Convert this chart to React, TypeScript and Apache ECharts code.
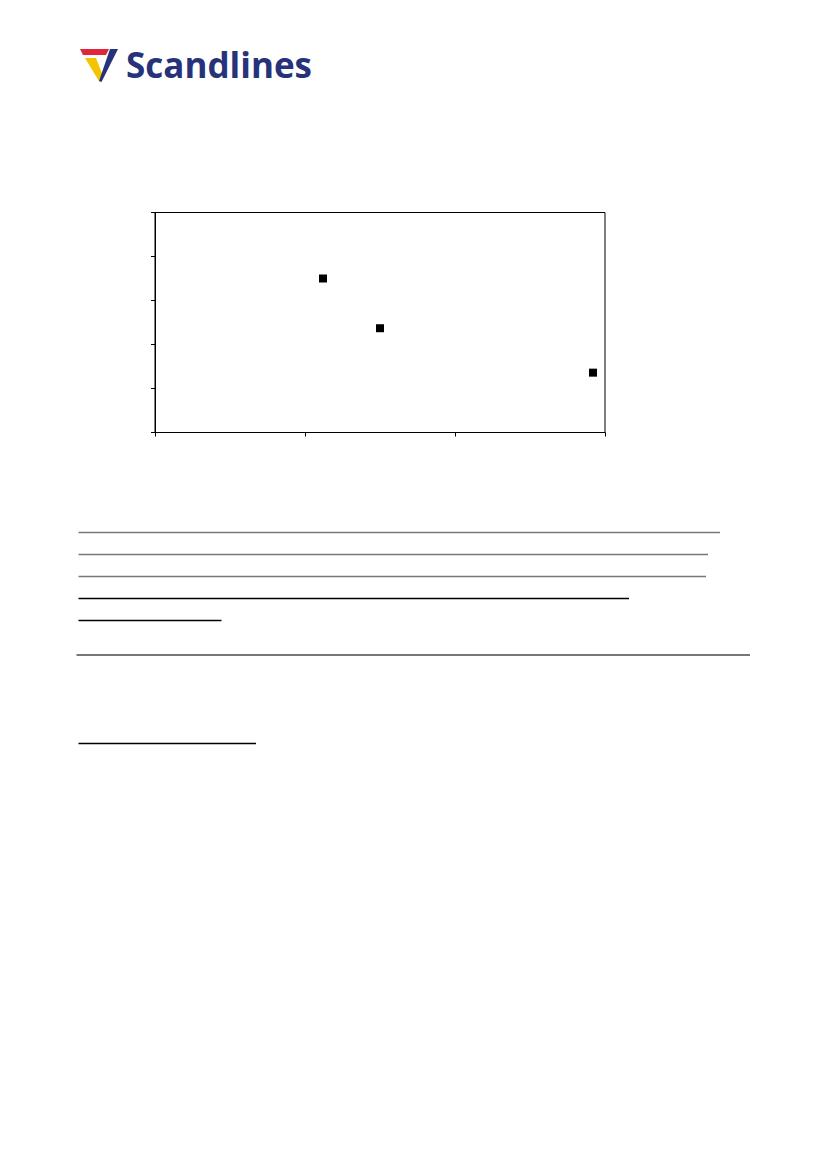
import React, { useEffect, useRef } from "react";
import * as echarts from "echarts";

const xValues = [1.12, 1.5, 2.92];
const yValues = [3.5, 2.37, 1.36];
const xTicks = [0, 1, 2, 3];
const yTicks = [0, 1, 2, 3, 4, 5];

export default function App() {
  const ref = useRef<HTMLDivElement>(null);
  useEffect(() => {
    if (!ref.current) return;
    const chart = echarts.init(ref.current, null, { renderer: "svg" });
    const points = xValues.map((x, i) => [x, yValues[i]]);
    const hline = (x1: number, x2: number, y: number, color: string, w: number) => ({
      type: "line",
      silent: true,
      shape: { x1, y1: y, x2, y2: y },
      style: { stroke: color, lineWidth: w },
    });
    chart.setOption({
      animation: false,
      backgroundColor: "#ffffff",
      grid: {
        left: 155,
        top: 212.5,
        width: 450,
        height: 220,
        show: true,
        borderColor: "#000000",
        borderWidth: 1,
        backgroundColor: "transparent",
      },
      xAxis: {
        type: "value",
        min: xTicks[0],
        max: xTicks[xTicks.length - 1],
        interval: 1,
        axisLine: { show: true, onZero: false, lineStyle: { color: "#000", width: 1 } },
        axisTick: { show: true, inside: false, length: 4, lineStyle: { color: "#000" } },
        axisLabel: { show: false },
        splitLine: { show: false },
      },
      yAxis: {
        type: "value",
        min: yTicks[0],
        max: yTicks[yTicks.length - 1],
        interval: 1,
        axisLine: { show: true, onZero: false, lineStyle: { color: "#000", width: 1 } },
        axisTick: { show: true, inside: false, length: 4, lineStyle: { color: "#000" } },
        axisLabel: { show: false },
        splitLine: { show: false },
      },
      series: [
        {
          type: "scatter",
          data: points,
          symbol: "rect",
          symbolSize: 8,
          itemStyle: { color: "#000000", opacity: 1 },
        },
      ],
      graphic: [
        {
          type: "polygon",
          shape: { points: [[80, 49], [109, 49], [106, 55], [83, 55]] },
          style: { fill: "#e2263a" },
        },
        {
          type: "polygon",
          shape: { points: [[85, 58], [96, 58], [103, 76], [99.5, 82]] },
          style: { fill: "#f5c400" },
        },
        {
          type: "polygon",
          shape: { points: [[110, 49], [118, 49], [101.5, 82], [99, 81]] },
          style: { fill: "#26337a" },
        },
        {
          type: "text",
          x: 126,
          y: 64,
          style: {
            text: "Scandlines",
            font: 'bold 35px "Open Sans"',
            fill: "#26337a",
            verticalAlign: "middle",
            align: "left",
          },
        },
        hline(78.5, 720, 532.5, "#777777", 1.3),
        hline(78.5, 708, 554.5, "#777777", 1.3),
        hline(78.5, 706, 576.5, "#777777", 1.3),
        hline(78.5, 629, 598.5, "#000000", 1.3),
        hline(78.5, 221.5, 620.5, "#000000", 1.3),
        hline(76.5, 750, 655, "#777777", 2),
        hline(78.5, 256, 743.5, "#000000", 1.3),
      ],
    });
    return () => chart.dispose();
  }, []);
  return (
    <div
      ref={ref}
      style={{ position: "absolute", left: 0, top: 0, width: 826, height: 1169 }}
    />
  );
}
